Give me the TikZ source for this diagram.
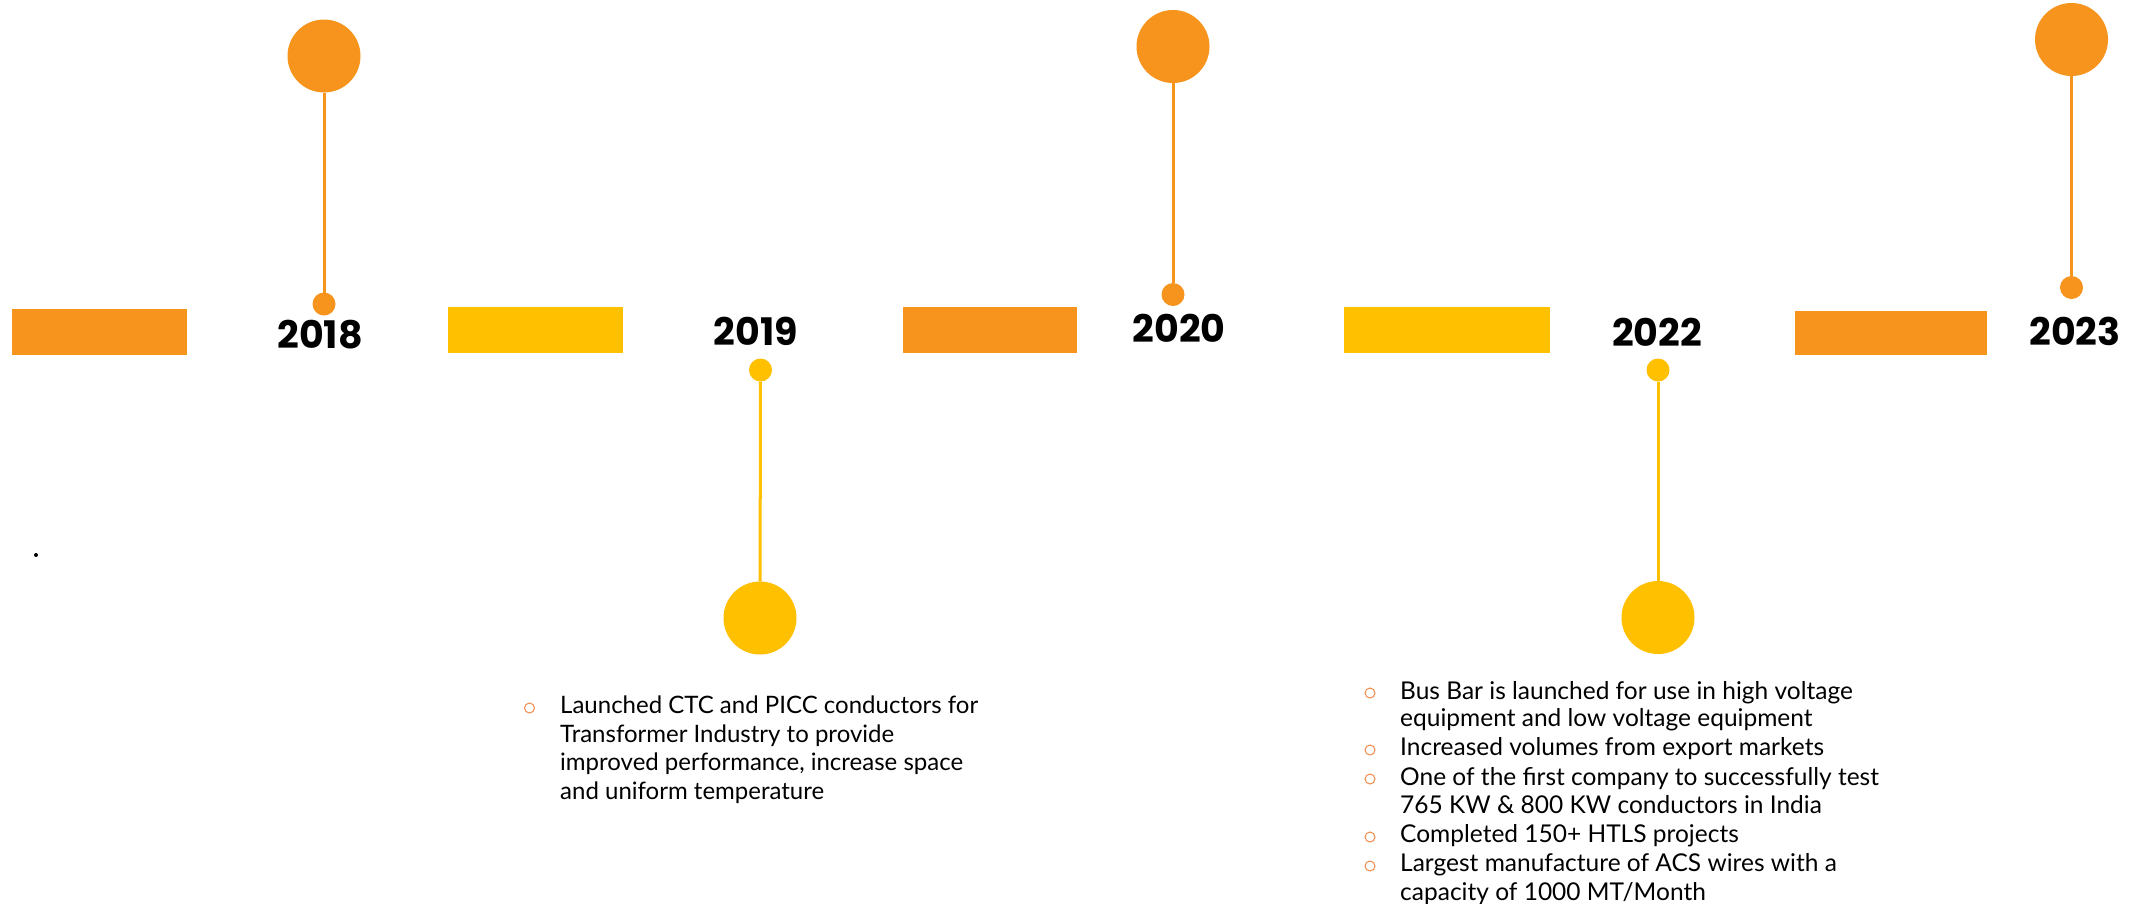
\documentclass[tikz,border=0pt]{standalone}
\usepackage{fontspec}
\setmainfont{Lato}
\newfontfamily\yearfont{Poppins}
\definecolor{tlorange}{RGB}{247,148,29}
\definecolor{tlyellow}{RGB}{255,192,0}
\definecolor{bulletc}{RGB}{240,138,75}
\begin{document}
\begin{tikzpicture}[x=1pt,y=-1pt,
  bar/.style={rectangle, inner sep=0pt, outer sep=0pt, draw=none},
  bigdot/.style={circle, inner sep=0pt, outer sep=0pt, minimum size=73pt, draw=none},
  smalldot/.style={circle, inner sep=0pt, outer sep=0pt, minimum size=23pt, draw=none},
  stem/.style={line width=3pt},
  year/.style={inner sep=0pt, font=\yearfont\bfseries\fontsize{38}{40}\selectfont},
  bul/.style={circle, draw=bulletc, line width=1pt, minimum size=10pt, inner sep=0pt},
  txt/.style={anchor=base west, inner sep=0pt, font=\fontsize{24}{28.7}\selectfont},
  txtc/.style={anchor=base west, inner sep=0pt, font=\fontsize{24.5}{28.7}\selectfont}
]
\fill[white] (0,0) rectangle (2133,903);
\useasboundingbox (0,0) rectangle (2133,903);

% timeline bars
\node[bar, fill=tlorange, minimum width=175pt, minimum height=46pt] (r1) at (99.5,332) {};
\node[bar, fill=tlyellow, minimum width=175pt, minimum height=46pt] (r2) at (535.5,330) {};
\node[bar, fill=tlorange, minimum width=174pt, minimum height=46pt] (r3) at (990,330) {};
\node[bar, fill=tlyellow, minimum width=206pt, minimum height=46pt] (r4) at (1447,330) {};
\node[bar, fill=tlorange, minimum width=192pt, minimum height=44pt] (r5) at (1891,333) {};

% years
\node[year] (y18) at (320,335) {2018};
\node[year] (y19) at (756,331) {2019};
\node[year] (y20) at (1179,328) {2020};
\node[year] (y22) at (1657,332) {2022};
\node[year] (y23) at (2075,331.5) {2023};

% pins
\node[bigdot, fill=tlorange] (c18) at (324,56) {};
\node[smalldot, fill=tlorange] (d18) at (324,304) {};
\draw[stem, tlorange] (c18) -- (d18);

\node[smalldot, fill=tlyellow] (d19) at (760.5,370) {};
\node[bigdot, fill=tlyellow] (c19) at (760,618) {};
\draw[stem, tlyellow] (d19) -- (c19);

\node[bigdot, fill=tlorange] (c20) at (1173,46.5) {};
\node[smalldot, fill=tlorange] (d20) at (1173,294.5) {};
\draw[stem, tlorange] (c20) -- (d20);

\node[smalldot, fill=tlyellow] (d22) at (1658,370) {};
\node[bigdot, fill=tlyellow] (c22) at (1658,617.5) {};
\draw[stem, tlyellow] (d22) -- (c22);

\node[bigdot, fill=tlorange] (c23) at (2071.5,39.5) {};
\node[smalldot, fill=tlorange] (d23) at (2071.5,287.5) {};
\draw[stem, tlorange] (c23) -- (d23);

% stray dot
\node[circle, fill=black, minimum size=4pt, inner sep=0pt] (dot) at (36,555) {};

% 2019 text
\node[bul] (b19) at (529.5,708) {};
\node[txt] (t19a) at (560,713.3) {Launched CTC and PICC conductors for};
\node[txt] (t19b) at (560,742.3) {Transformer Industry to provide};
\node[txt] (t19c) at (560,770.8) {improved performance, increase space};
\node[txt] (t19d) at (560,799.3) {and uniform temperature};

% 2022 text
\node[bul] (b22a) at (1370,693) {};
\node[bul] (b22b) at (1370,750) {};
\node[bul] (b22c) at (1370,779) {};
\node[bul] (b22d) at (1370,837) {};
\node[bul] (b22e) at (1370,866) {};
\node[txtc] (t22a) at (1400,699) {Bus Bar is launched for use in high voltage};
\node[txtc] (t22b) at (1400,726.7) {equipment and low voltage equipment};
\node[txtc] (t22c) at (1400,755.7) {Increased volumes from export markets};
\node[txtc] (t22d) at (1400,785) {One of the first company to successfully test};
\node[txtc] (t22e) at (1400,813.3) {765 KW \& 800 KW conductors in India};
\node[txtc] (t22f) at (1400,842.7) {Completed 150+ HTLS projects};
\node[txtc] (t22g) at (1400,871.7) {Largest manufacture of ACS wires with a};
\node[txtc] (t22h) at (1400,900) {capacity of 1000 MT/Month};
\end{tikzpicture}
\end{document}
